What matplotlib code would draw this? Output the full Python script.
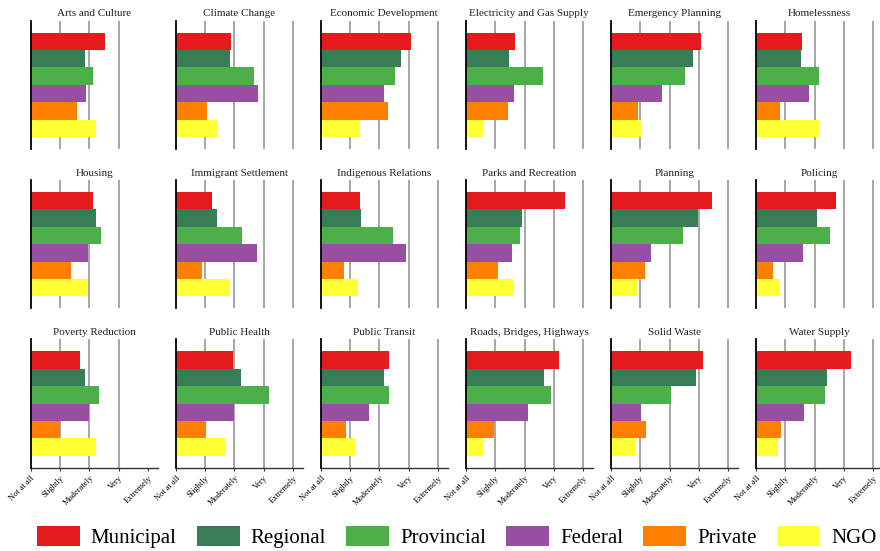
import numpy as np
import matplotlib
matplotlib.use("Agg")
import matplotlib.pyplot as plt
from matplotlib.patches import Patch

plt.rcParams['font.family'] = ['Liberation Serif', 'DejaVu Serif']

# policy areas, one small panel each
areas = ["Arts and Culture", "Climate Change", "Economic Development",
         "Electricity and Gas Supply", "Emergency Planning", "Homelessness",
         "Housing", "Immigrant Settlement", "Indigenous Relations",
         "Parks and Recreation", "Planning", "Policing",
         "Poverty Reduction", "Public Health", "Public Transit",
         "Roads, Bridges, Highways", "Solid Waste", "Water Supply"]

levels = ["Municipal", "Regional", "Provincial", "Federal", "Private", "NGO"]
level_colors = ["#e41a1c", "#377d56", "#4daf4a", "#984ea3", "#ff7f00", "#ffff33"]

scale_labels = ["Not at all", "Slightly", "Moderately", "Very", "Extremely"]

# mean rating per level (0 = not at all ... 4 = extremely)
municipal  = [2.53, 1.90, 3.08, 1.68, 3.07, 1.57, 2.14, 1.25, 1.35,
              3.39, 3.44, 2.73, 1.69, 1.94, 2.32, 3.19, 3.14, 3.24]
regional   = [1.86, 1.86, 2.75, 1.48, 2.81, 1.55, 2.21, 1.42, 1.38,
              1.91, 2.98, 2.08, 1.84, 2.22, 2.14, 2.65, 2.90, 2.42]
provincial = [2.13, 2.67, 2.53, 2.63, 2.52, 2.15, 2.41, 2.25, 2.45,
              1.85, 2.45, 2.52, 2.34, 3.17, 2.31, 2.91, 2.05, 2.35]
federal    = [1.87, 2.79, 2.16, 1.65, 1.74, 1.81, 1.97, 2.77, 2.91,
              1.56, 1.36, 1.60, 1.98, 1.97, 1.66, 2.13, 1.02, 1.64]
private    = [1.58, 1.07, 2.30, 1.44, 0.92, 0.82, 1.38, 0.90, 0.78,
              1.10, 1.16, 0.58, 1.01, 1.04, 0.85, 0.97, 1.19, 0.86]
ngo        = [2.24, 1.39, 1.33, 0.58, 1.02, 2.15, 1.97, 1.84, 1.28,
              1.61, 0.90, 0.82, 2.24, 1.69, 1.18, 0.59, 0.82, 0.75]

series = [municipal, regional, provincial, federal, private, ngo]

W, H = 880, 551
fig = plt.figure(figsize=(W / 100, H / 100), dpi=100)

ncols, nrows = 6, 3
ax_w, ax_h = 127, 128.5
x_left, x_step = 30.7, 145.05
y_top, y_step = 20.5, 159.4

for i, area in enumerate(areas):
    r, c = divmod(i, ncols)
    left = (x_left + c * x_step) / W
    bottom = 1 - (y_top + r * y_step + ax_h) / H
    ax = fig.add_axes([left, bottom, ax_w / W, ax_h / H])

    vals = [s[i] for s in series]
    ypos = np.arange(len(levels))
    ax.barh(ypos, vals, height=1.0, color=level_colors, zorder=3)

    # vertical guides at each scale step (first column stops at "Very")
    guides = [1, 2, 3] if c == 0 else [1, 2, 3, 4]
    for g in guides:
        ax.axvline(g, color="#a0a0a0", lw=1.3, zorder=1)

    ax.set_xlim(0, 4.33)
    ax.set_ylim(5.5 + 0.69, -0.5 - 0.69)
    ax.set_yticks([])
    for side in ["top", "right"]:
        ax.spines[side].set_visible(False)
    ax.spines["left"].set_color("black")
    ax.spines["left"].set_linewidth(1.3)
    ax.spines["left"].set_zorder(4)

    if r == nrows - 1:
        ax.spines["bottom"].set_color("#333333")
        ax.spines["bottom"].set_linewidth(1.0)
        ax.set_xticks(range(5))
        ax.set_xticklabels(scale_labels, rotation=45, ha="right",
                           rotation_mode="anchor", fontsize=6)
        ax.tick_params(axis="x", length=2.5, width=0.8, pad=2,
                       color="#333333")
    else:
        ax.spines["bottom"].set_visible(False)
        ax.set_xticks([])

    ax.set_title(area, fontsize=8, pad=3, color="#222222")

handles = [Patch(facecolor=col, edgecolor="none") for col in level_colors]
fig.legend(handles, levels, loc="center", ncol=6,
           bbox_to_anchor=(456.5 / W, 1 - 537 / H), frameon=False,
           fontsize=15, handlelength=2.07, handleheight=1.06,
           handletextpad=0.53, columnspacing=0.96, borderpad=0)

fig.savefig("out.png", dpi=100)
